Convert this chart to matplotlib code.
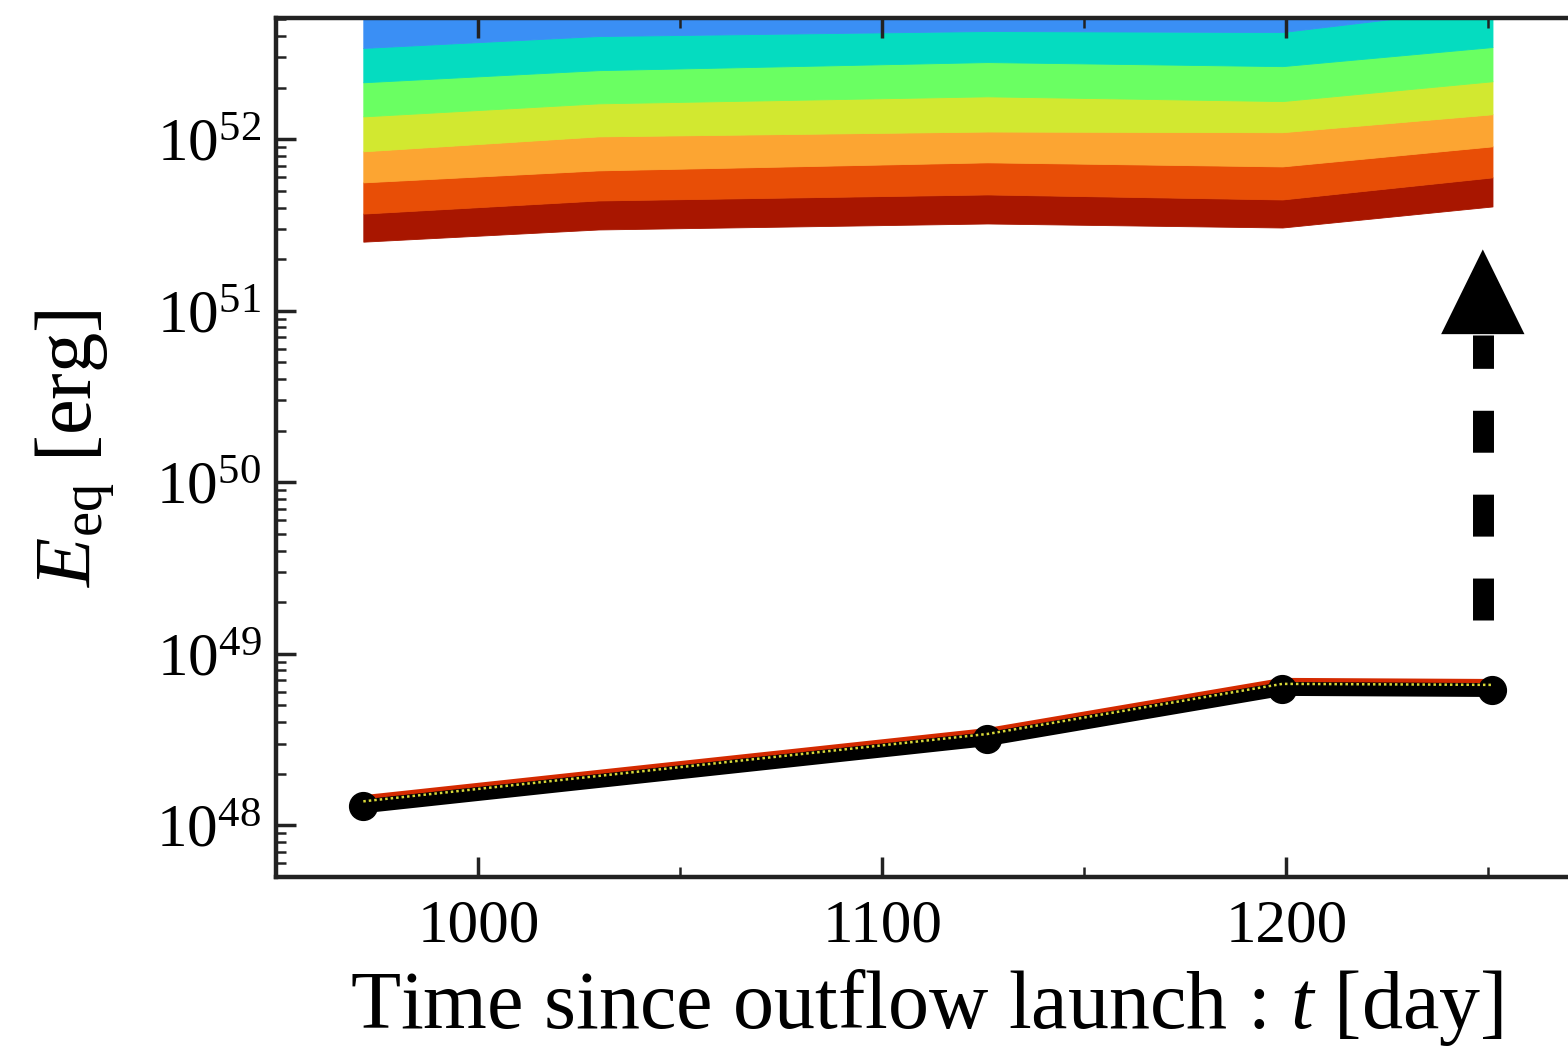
import matplotlib
matplotlib.use("Agg")
import matplotlib.pyplot as plt
import matplotlib.ticker as mticker

plt.rcParams["font.family"] = ["Liberation Serif", "DejaVu Serif"]
plt.rcParams["mathtext.fontset"] = "custom"
plt.rcParams["mathtext.rm"] = "Liberation Serif"
plt.rcParams["mathtext.it"] = "Liberation Serif:italic"
plt.rcParams["mathtext.default"] = "regular"

# epochs of the observations [day]
t_obs = [971.5, 1126.0, 1199.0, 1251.0]
# equipartition energy from the radio data [erg]
e_eq = [1.29e48, 3.18e48, 6.24e48, 6.15e48]
e_eq_red = [1.42e48, 3.50e48, 6.86e48, 6.76e48]
e_eq_dot = [1.38e48, 3.41e48, 6.68e48, 6.59e48]

# band edges of the required energy, bottom to top [erg]
t_band = [971.5, 1029.7, 1126.0, 1199.0, 1251.0]
band_edges = [
    [2.53e51, 2.98e51, 3.23e51, 3.06e51, 4.06e51],
    [3.69e51, 4.40e51, 4.77e51, 4.46e51, 6.00e51],
    [5.61e51, 6.59e51, 7.34e51, 6.95e51, 9.10e51],
    [8.51e51, 1.04e52, 1.11e52, 1.10e52, 1.40e52],
    [1.36e52, 1.62e52, 1.78e52, 1.67e52, 2.18e52],
    [2.15e52, 2.53e52, 2.82e52, 2.67e52, 3.45e52],
    [3.41e52, 4.00e52, 4.28e52, 4.22e52, 5.91e52],
    [8.0e52, 8.0e52, 8.0e52, 8.0e52, 8.0e52],
]
band_colors = ["#a81600", "#e84e06", "#fca532", "#d2e830",
               "#6aff62", "#05dcc0", "#3a8ff5"]

x_major = [1000, 1100, 1200]

# lower-limit arrow
arrow_t = 1248.6
arrow_from = 1.58e49
arrow_base = 7.24e50
arrow_tip = 2.28e51

fig = plt.figure(figsize=(15.68, 10.5), dpi=100)
ax = fig.add_axes([0.1763, 0.1648, 0.9018, 0.8181])

for lo, hi, c in zip(band_edges[:-1], band_edges[1:], band_colors):
    ax.fill_between(t_band, lo, hi, color=c, lw=0.6, edgecolor=c, zorder=1)

ax.plot(t_obs, e_eq_red, color="#d42a00", lw=5.8, zorder=3)
ax.plot(t_obs, e_eq, color="black", lw=10, marker="o", ms=20,
        zorder=4)
ax.plot(t_obs, e_eq_dot, color="#d8d838", lw=1.8, ls=(0, (1, 1.2)),
        zorder=5)

# dashed shaft + filled head
ax.plot([arrow_t, arrow_t], [arrow_from, arrow_base], color="black",
        lw=15.1, ls=(0, (2, 2)), zorder=4)
ax.annotate("", xy=(arrow_t, arrow_tip), xytext=(arrow_t, arrow_base),
            arrowprops=dict(arrowstyle="-|>,head_length=6.1,head_width=3.0",
                            mutation_scale=10, color="black", lw=0,
                            shrinkA=0, shrinkB=0),
            zorder=4)

ax.set_yscale("log")
ax.set_xlim(950, 1300)
ax.set_ylim(5e47, 5.1e52)
ax.xaxis.set_major_locator(mticker.FixedLocator(x_major))
ax.xaxis.set_minor_locator(mticker.MultipleLocator(50))
ax.yaxis.set_major_locator(mticker.LogLocator(base=10, numticks=20))
ax.yaxis.set_minor_locator(mticker.LogLocator(base=10, subs=range(2, 10),
                                              numticks=20))
ax.yaxis.set_minor_formatter(mticker.NullFormatter())

ax.tick_params(which="both", direction="in", top=True, right=True,
               colors="#222222", labelcolor="black")
ax.tick_params(which="major", length=14.4, width=2.5, labelsize=44)
ax.tick_params(which="minor", length=7.5, width=1.8)
ax.tick_params(axis="x", which="major", pad=16)
ax.tick_params(axis="y", which="major", pad=11)
for sp in ax.spines.values():
    sp.set_linewidth(3.2)
    sp.set_color("#222222")

fig.text(0.591, 0.040, r"Time since outflow launch : $\mathit{t}$ [day]",
         fontsize=59, ha="center", va="center")
fig.text(0.048, 0.573, r"$\mathit{E}_{\rm eq}$ [erg]", fontsize=58,
         rotation=90, ha="center", va="center")

fig.savefig("out.png", dpi=100)
